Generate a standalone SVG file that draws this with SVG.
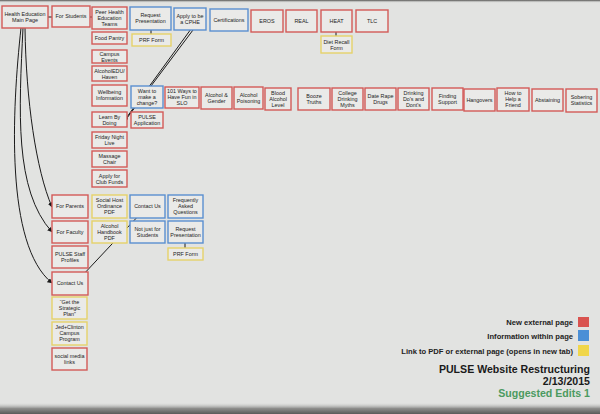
<svg xmlns="http://www.w3.org/2000/svg" width="600" height="414" viewBox="0 0 600 414">
<defs>
<style>
.n rect{fill:#eaeae8;stroke-width:1.4}
.r rect{stroke:#d35a58}
.b rect{stroke:#5a8fd0}
.y rect{stroke:#e6d26a}
.n text{font-family:"Liberation Sans",Arial,sans-serif;font-size:5.4px;fill:#1c1c1c;text-anchor:middle}
.c{fill:none;stroke:#1a1a1a;stroke-width:1}
.lg{font-family:"Liberation Sans",Arial,sans-serif;font-size:7.6px;font-weight:bold;fill:#222;text-anchor:end}
.tt{font-family:"Liberation Sans",Arial,sans-serif;font-size:10.6px;font-weight:bold;fill:#1a1a1a;text-anchor:end}
</style>
<marker id="ah" markerWidth="5" markerHeight="5" refX="4.5" refY="2.5" orient="auto" markerUnits="userSpaceOnUse">
<path d="M0,0 L5,2.5 L0,5 Z" fill="#1a1a1a"/>
</marker>
<linearGradient id="top" x1="0" y1="0" x2="0" y2="1">
<stop offset="0" stop-color="#4a4a48"/><stop offset="1" stop-color="#e2e3e1" stop-opacity="0"/>
</linearGradient>
<linearGradient id="bot" x1="0" y1="0" x2="0" y2="1">
<stop offset="0" stop-color="#c8c9c7" stop-opacity="0"/><stop offset="0.5" stop-color="#8d8d8b"/><stop offset="1" stop-color="#5a5a58"/>
</linearGradient>
</defs>
<rect width="600" height="414" fill="#e2e3e1"/>
<rect width="600" height="3" fill="url(#top)"/>
<rect y="403" width="600" height="11" fill="url(#bot)"/>

<g id="connectors">
<path class="c" d="M48,17 H52"/>
<path class="c" d="M90,17 H92"/>
<path class="c" d="M151,30 V34"/>
<path class="c" d="M336,32 V36"/>
<path class="c" d="M185,243 V248"/>
<path class="c" d="M191,29 L124,121" marker-end="url(#ah)"/>
<path class="c" d="M193,30 L127,118"/>
<path class="c" d="M142,212 L81,277" marker-end="url(#ah)"/>
<path class="c" d="M25,28 C26,100 36,170 52,207" marker-end="url(#ah)"/>
<path class="c" d="M23,28 C19,110 14,190 52,232" marker-end="url(#ah)"/>
<path class="c" d="M21,28 C12,110 5,245 52,283" marker-end="url(#ah)"/>
</g>

<g id="main" class="n r"><rect x="2" y="6" width="46" height="22"/><text x="25" y="15.5">Health Education<tspan x="25" dy="6">Main Page</tspan></text></g>
<g id="students" class="n r"><rect x="52" y="6" width="38" height="21"/><text x="71" y="18.4">For Students</text></g>
<g id="peer" class="n r"><rect x="92" y="7" width="35" height="22"/><text x="109.5" y="13.5">Peer Health<tspan x="109.5" dy="6">Education</tspan><tspan x="109.5" dy="6">Teams</tspan></text></g>
<g id="reqpres1" class="n b"><rect x="130" y="7" width="41" height="23"/><text x="150.5" y="17">Request<tspan x="150.5" dy="6">Presentation</tspan></text></g>
<g id="prf1" class="n y"><rect x="132" y="34" width="39" height="12"/><text x="151.5" y="41.9">PRF Form</text></g>
<g id="cphe" class="n b"><rect x="174" y="8" width="32" height="22"/><text x="190" y="17.5">Apply to be<tspan x="190" dy="6">a CPHE</tspan></text></g>
<g id="cert" class="n b"><rect x="210" y="9" width="38" height="22"/><text x="229" y="21.9">Certifications</text></g>
<g id="eros" class="n r"><rect x="251" y="10" width="32" height="22"/><text x="267" y="22.9">EROS</text></g>
<g id="real" class="n r"><rect x="286" y="10" width="31" height="22"/><text x="301.5" y="22.9">REAL</text></g>
<g id="heat" class="n r"><rect x="321" y="10" width="31" height="22"/><text x="336.5" y="22.9">HEAT</text></g>
<g id="diet" class="n y"><rect x="321" y="36" width="31" height="17"/><text x="336.5" y="43.5">Diet Recall<tspan x="336.5" dy="6">Form</tspan></text></g>
<g id="tlc" class="n r"><rect x="356" y="10" width="32" height="22"/><text x="372" y="22.9">TLC</text></g>

<g id="food" class="n r"><rect x="92" y="32" width="35" height="12"/><text x="109.5" y="39.9">Food Pantry</text></g>
<g id="campus" class="n r"><rect x="92" y="50" width="35" height="13"/><text x="109.5" y="55.6">Campus<tspan x="109.5" dy="6">Events</tspan></text></g>
<g id="aedu" class="n r"><rect x="92" y="66" width="35" height="15"/><text x="109.5" y="72.6">AlcoholEDU/<tspan x="109.5" dy="6">Haven</tspan></text></g>
<g id="wellbeing" class="n r"><rect x="92" y="85" width="35" height="21"/><text x="109.5" y="94">Wellbeing<tspan x="109.5" dy="6">Information</tspan></text></g>
<g id="learn" class="n r"><rect x="92" y="112" width="35" height="15"/><text x="109.5" y="118.6">Learn By<tspan x="109.5" dy="6">Doing</tspan></text></g>
<g id="friday" class="n r"><rect x="92" y="132" width="35" height="16"/><text x="109.5" y="139">Friday Night<tspan x="109.5" dy="6">Live</tspan></text></g>
<g id="massage" class="n r"><rect x="92" y="151" width="35" height="16"/><text x="109.5" y="158">Massage<tspan x="109.5" dy="6">Chair</tspan></text></g>
<g id="clubfunds" class="n r"><rect x="92" y="170" width="35" height="17"/><text x="109.5" y="177.5">Apply for<tspan x="109.5" dy="6">Club Funds</tspan></text></g>

<g id="want" class="n b"><rect x="131" y="86" width="32" height="22"/><text x="147" y="92.5">Want to<tspan x="147" dy="6">make a</tspan><tspan x="147" dy="6">change?</tspan></text></g>
<g id="ways" class="n r"><rect x="165" y="87" width="34" height="21"/><text x="182" y="93">101 Ways to<tspan x="182" dy="6">Have Fun in</tspan><tspan x="182" dy="6">SLO</tspan></text></g>
<g id="gender" class="n r"><rect x="201" y="87" width="31" height="22"/><text x="216.5" y="96.5">Alcohol &amp;<tspan x="216.5" dy="6">Gender</tspan></text></g>
<g id="poisoning" class="n r"><rect x="234" y="87" width="29" height="22"/><text x="248.5" y="96.5">Alcohol<tspan x="248.5" dy="6">Poisoning</tspan></text></g>
<g id="bac" class="n r"><rect x="265" y="88" width="26" height="22"/><text x="278" y="94.5">Blood<tspan x="278" dy="6">Alcohol</tspan><tspan x="278" dy="6">Level</tspan></text></g>
<g id="booze" class="n r"><rect x="298" y="88" width="32" height="22"/><text x="314" y="97.5">Booze<tspan x="314" dy="6">Truths</tspan></text></g>
<g id="college" class="n r"><rect x="332" y="88" width="31" height="22"/><text x="347.5" y="94.5">College<tspan x="347.5" dy="6">Drinking</tspan><tspan x="347.5" dy="6">Myths</tspan></text></g>
<g id="daterape" class="n r"><rect x="365" y="88" width="31" height="22"/><text x="380.5" y="97.5">Date Rape<tspan x="380.5" dy="6">Drugs</tspan></text></g>
<g id="dodont" class="n r"><rect x="398" y="88" width="31" height="22"/><text x="413.5" y="94.5">Drinking<tspan x="413.5" dy="6">Do's and</tspan><tspan x="413.5" dy="6">Dont's</tspan></text></g>
<g id="finding" class="n r"><rect x="432" y="88" width="31" height="22"/><text x="447.5" y="97.5">Finding<tspan x="447.5" dy="6">Support</tspan></text></g>
<g id="hangovers" class="n r"><rect x="464" y="89" width="31" height="22"/><text x="479.5" y="101.9">Hangovers</text></g>
<g id="helpfriend" class="n r"><rect x="497" y="88" width="32" height="23"/><text x="513" y="95">How to<tspan x="513" dy="6">Help a</tspan><tspan x="513" dy="6">Friend</tspan></text></g>
<g id="abstaining" class="n r"><rect x="532" y="89" width="31" height="22"/><text x="547.5" y="101.9">Abstaining</text></g>
<g id="sobering" class="n r"><rect x="566" y="89" width="31" height="23"/><text x="581.5" y="99">Sobering<tspan x="581.5" dy="6">Statistics</tspan></text></g>
<g id="pulseapp" class="n r"><rect x="131" y="112" width="32" height="16"/><text x="147" y="119">PULSE<tspan x="147" dy="6">Application</tspan></text></g>

<g id="parents" class="n r"><rect x="52" y="195" width="36" height="23"/><text x="70" y="208.4">For Parents</text></g>
<g id="faculty" class="n r"><rect x="52" y="221" width="36" height="22"/><text x="70" y="233.9">For Faculty</text></g>
<g id="staff" class="n r"><rect x="52" y="246" width="36" height="22"/><text x="70" y="255.5">PULSE Staff<tspan x="70" dy="6">Profiles</tspan></text></g>
<g id="contact1" class="n r"><rect x="52" y="272" width="36" height="23"/><text x="70" y="285.4">Contact Us</text></g>
<g id="socialhost" class="n y"><rect x="92" y="195" width="35" height="23"/><text x="109.5" y="202">Social Host<tspan x="109.5" dy="6">Ordinance</tspan><tspan x="109.5" dy="6">PDF</tspan></text></g>
<g id="handbook" class="n y"><rect x="92" y="221" width="35" height="22"/><text x="109.5" y="227.5">Alcohol<tspan x="109.5" dy="6">Handbook</tspan><tspan x="109.5" dy="6">PDF</tspan></text></g>
<g id="contact2" class="n b"><rect x="130" y="195" width="35" height="23"/><text x="147.5" y="208.4">Contact Us</text></g>
<g id="notjust" class="n b"><rect x="130" y="221" width="35" height="22"/><text x="147.5" y="230.5">Not just for<tspan x="147.5" dy="6">Students</tspan></text></g>
<g id="faq" class="n b"><rect x="168" y="195" width="35" height="23"/><text x="185.5" y="202">Frequently<tspan x="185.5" dy="6">Asked</tspan><tspan x="185.5" dy="6">Questions</tspan></text></g>
<g id="reqpres2" class="n b"><rect x="168" y="221" width="35" height="22"/><text x="185.5" y="230.5">Request<tspan x="185.5" dy="6">Presentation</tspan></text></g>
<g id="prf2" class="n y"><rect x="168" y="248" width="35" height="12"/><text x="185.5" y="255.9">PRF Form</text></g>
<g id="strategic" class="n y"><rect x="52" y="297" width="35" height="22"/><text x="69.5" y="303.5">“Get the<tspan x="69.5" dy="6">Strategic</tspan><tspan x="69.5" dy="6">Plan”</tspan></text></g>
<g id="jed" class="n y"><rect x="52" y="322" width="35" height="23"/><text x="69.5" y="329">Jed+Clinton<tspan x="69.5" dy="6">Campus</tspan><tspan x="69.5" dy="6">Program</tspan></text></g>
<g id="social" class="n r"><rect x="52" y="348" width="35" height="22"/><text x="69.5" y="357.5">social media<tspan x="69.5" dy="6">links</tspan></text></g>

<g id="legend">
<text class="lg" x="573" y="324.8">New external page</text>
<rect x="578" y="317" width="11" height="10" fill="#d9534f"/>
<text class="lg" x="573" y="339.3">Information within page</text>
<rect x="578" y="330" width="11" height="11" fill="#4a8fd6"/>
<text class="lg" x="573" y="354.3">Link to PDF or external page (opens in new tab)</text>
<rect x="578" y="345" width="11" height="11" fill="#f0d64a"/>
<text class="tt" x="590" y="373">PULSE Website Restructuring</text>
<text class="tt" x="590" y="384.5">2/13/2015</text>
<text class="tt" x="590" y="397" style="fill:#4b9a5f">Suggested Edits 1</text>
</g>
</svg>
